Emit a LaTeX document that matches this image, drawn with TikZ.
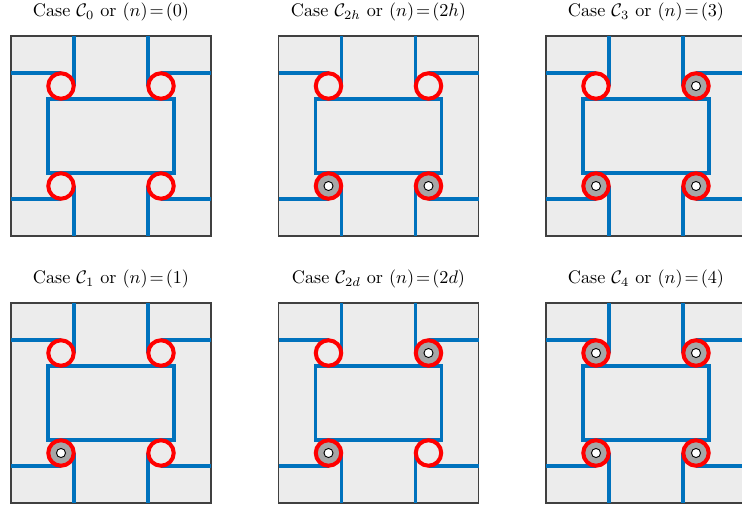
\documentclass[tikz,border=0pt]{standalone}
\usepackage{amsmath}
\usepackage{amssymb}

\definecolor{wireblue}{RGB}{0,114,189}
\definecolor{panelgray}{RGB}{236,236,236}
\definecolor{dotgray}{RGB}{166,166,166}
\definecolor{framegray}{RGB}{64,64,64}

\tikzset{
  casetitle/.style={font=\normalsize, inner sep=0pt},
  boxframe/.style={draw=framegray, fill=panelgray, line width=0.7pt},
  wire/.style={draw=wireblue, line width=1.7pt},
  freedot/.style={circle, draw=red, line width=2.2pt, fill=panelgray,
    inner sep=0pt, minimum size=14pt},
  fulldot/.style={freedot, fill=dotgray,
    path picture={\draw[black, fill=white, line width=0.5pt]
      (path picture bounding box.center) circle (2.5pt);}},
}

\begin{document}
\begin{tikzpicture}[x=0.55pt, y=-0.55pt]
\useasboundingbox (0,0) rectangle (742,509);
\foreach \px/\py/\nm/\sub/\lab/\tl/\tr/\bl/\br in {
   11/36/czero/0/0/freedot/freedot/freedot/freedot,
   278.5/36/ctwoh/2h/2h/freedot/freedot/fulldot/fulldot,
   546/36/cthree/3/3/freedot/fulldot/fulldot/fulldot,
   11/303/cone/1/1/freedot/freedot/fulldot/freedot,
   278.5/303/ctwod/2d/2d/freedot/fulldot/fulldot/freedot,
   546/303/cfour/4/4/fulldot/fulldot/fulldot/fulldot}{
  \begin{scope}[shift={(\px,\py)}]
    % title and frame
    \node[casetitle] (\nm-title) at (100,-24) {Case $\mathcal{C}_{\sub}$ or $(n)\!=\!(\lab)$};
    \path[boxframe] (0,0) rectangle (200,200);
    % outer wires
    \draw[wire] (63,0) -- (63,50) (0,37) -- (50,37);
    \draw[wire] (137,0) -- (137,50) (200,37) -- (150,37);
    \draw[wire] (63,200) -- (63,150) (0,163) -- (50,163);
    \draw[wire] (137,200) -- (137,150) (200,163) -- (150,163);
    % inner loop
    \draw[wire] (37,63) rectangle (163,137);
    % junctions
    \node[\tl] (\nm-tl) at (50,50) {};
    \node[\tr] (\nm-tr) at (150,50) {};
    \node[\bl] (\nm-bl) at (50,150) {};
    \node[\br] (\nm-br) at (150,150) {};
  \end{scope}
}
\end{tikzpicture}
\end{document}
